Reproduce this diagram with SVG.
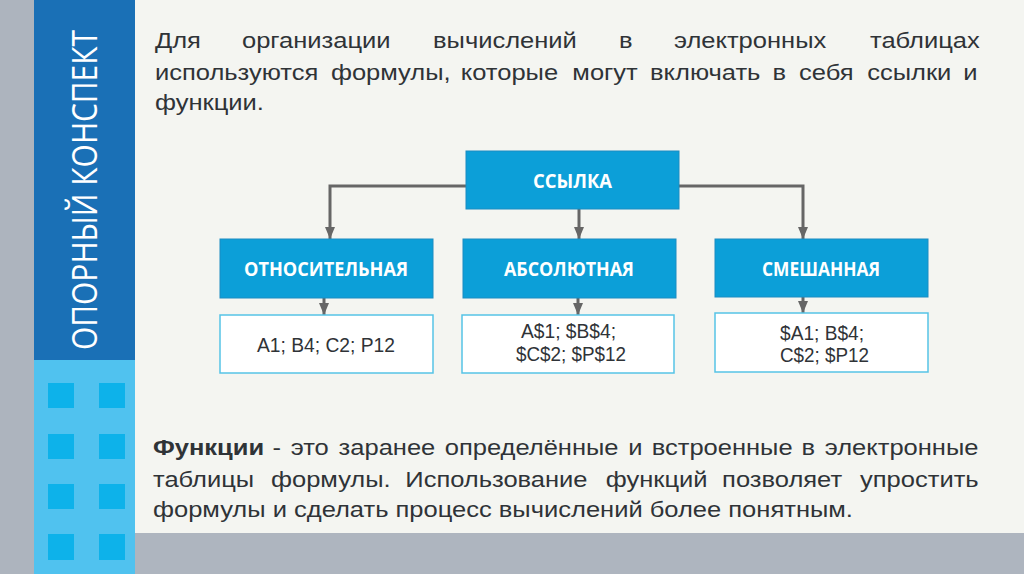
<svg xmlns="http://www.w3.org/2000/svg" width="1024" height="574" viewBox="0 0 1024 574">
<style>
.body{font-family:"Liberation Sans",Arial,sans-serif;font-size:22px;fill:#2f3337}
.lbl{font-family:"Open Sans","DejaVu Sans",sans-serif;font-weight:700;font-size:19px;fill:#ffffff}
.val{font-family:"Liberation Sans",Arial,sans-serif;font-size:20px;fill:#2f3337}
.head{fill:#0c9fd8;stroke:#1b8cc2;stroke-width:1}
.vbox{fill:#ffffff;stroke:#56c3e6;stroke-width:1.5}
.conn{fill:none;stroke:#666666;stroke-width:3}
.sq{fill:#0db2ea}
</style>
<defs>
<marker id="arr" markerUnits="userSpaceOnUse" markerWidth="12" markerHeight="10" refX="12" refY="5" orient="auto">
<path d="M0,0 L12,5 L0,10 Z" fill="#666666"/>
</marker>
</defs>
<g id="background">
<rect x="0" y="0" width="1024" height="574" fill="#f4f5f1"/>
<rect x="0" y="0" width="34" height="574" fill="#adb4be"/>
<rect x="135" y="533" width="889" height="41" fill="#aeb5bf"/>
<rect x="34" y="0" width="101" height="360" fill="#1a70b6"/>
<rect x="34" y="360" width="101" height="214" fill="#50c2ef"/>
<rect class="sq" x="48" y="383" width="26" height="25"/>
<rect class="sq" x="99" y="383" width="26" height="25"/>
<rect class="sq" x="48" y="434" width="26" height="25"/>
<rect class="sq" x="99" y="434" width="26" height="25"/>
<rect class="sq" x="48" y="484" width="26" height="25"/>
<rect class="sq" x="99" y="484" width="26" height="25"/>
<rect class="sq" x="48" y="534" width="26" height="26"/>
<rect class="sq" x="99" y="534" width="26" height="26"/>
<text transform="translate(97,190) scale(1.18,1) rotate(-90)" text-anchor="middle" textLength="320" lengthAdjust="spacingAndGlyphs" font-family="'Open Sans','DejaVu Sans',sans-serif" font-size="30" fill="#ffffff">ОПОРНЫЙ КОНСПЕКТ</text>
</g>
<g id="intro">
<text class="body" transform="matrix(1.16 0 0 1 0 48)"><tspan x="133.6">Для</tspan><tspan x="208.6">организации</tspan><tspan x="373.3">вычислений</tspan><tspan x="533.6">в</tspan><tspan x="581">электронных</tspan><tspan x="750">таблицах</tspan></text>
<text class="body" transform="matrix(1.16 0 0 1 0 80)"><tspan x="133.6">используются</tspan><tspan x="285.3">формулы,</tspan><tspan x="397.2">которые</tspan><tspan x="493.4">могут</tspan><tspan x="560.4">включать</tspan><tspan x="665.9">в</tspan><tspan x="688.8">себя</tspan><tspan x="747.6">ссылки</tspan><tspan x="830.3">и</tspan></text>
<text class="body" transform="matrix(1.16 0 0 1 0 110)"><tspan x="133.6">функции.</tspan></text>
</g>
<g id="connectors">
<path class="conn" d="M466,186 H330 V239" marker-end="url(#arr)"/>
<path class="conn" d="M679,186 H803 V239" marker-end="url(#arr)"/>
<path class="conn" d="M579,209 V239" marker-end="url(#arr)"/>
<path class="conn" d="M324,298 V315" marker-end="url(#arr)"/>
<path class="conn" d="M578,298 V315" marker-end="url(#arr)"/>
<path class="conn" d="M803,297 V313" marker-end="url(#arr)"/>
</g>
<g id="node-ssylka">
<rect class="head" x="466" y="151" width="213" height="58"/>
<text class="lbl" x="533" y="188" textLength="79" lengthAdjust="spacingAndGlyphs">ССЫЛКА</text>
</g>
<g id="node-otnositelnaya">
<rect class="head" x="220" y="239" width="213" height="59"/>
<text class="lbl" x="244" y="276" textLength="164" lengthAdjust="spacingAndGlyphs">ОТНОСИТЕЛЬНАЯ</text>
</g>
<g id="node-absolyutnaya">
<rect class="head" x="463" y="239" width="213" height="59"/>
<text class="lbl" x="504" y="276" textLength="130" lengthAdjust="spacingAndGlyphs">АБСОЛЮТНАЯ</text>
</g>
<g id="node-smeshannaya">
<rect class="head" x="715" y="239" width="213" height="58"/>
<text class="lbl" x="762" y="276" textLength="118" lengthAdjust="spacingAndGlyphs">СМЕШАННАЯ</text>
</g>
<g id="val-otnositelnaya">
<rect class="vbox" x="220" y="315" width="213" height="58"/>
<text class="val" x="257" y="352" textLength="138" lengthAdjust="spacingAndGlyphs">A1; B4; C2; P12</text>
</g>
<g id="val-absolyutnaya">
<rect class="vbox" x="462" y="315" width="212" height="58"/>
<text class="val" x="521" y="338" textLength="95" lengthAdjust="spacingAndGlyphs">A$1; $B$4;</text>
<text class="val" x="516" y="361" textLength="110" lengthAdjust="spacingAndGlyphs">$C$2; $P$12</text>
</g>
<g id="val-smeshannaya">
<rect class="vbox" x="715" y="313" width="213" height="59"/>
<text class="val" x="780" y="340" textLength="84" lengthAdjust="spacingAndGlyphs">$A1; B$4;</text>
<text class="val" x="780" y="362" textLength="89" lengthAdjust="spacingAndGlyphs">C$2; $P12</text>
</g>
<g id="functions-text">
<text class="body" transform="matrix(1.16 0 0 1 0 455)"><tspan x="131.9" font-weight="700">Функции</tspan><tspan x="235">-</tspan><tspan x="250.6">это</tspan><tspan x="291.9">заранее</tspan><tspan x="383.4">определённые</tspan><tspan x="541.6">и</tspan><tspan x="561.8">встроенные</tspan><tspan x="691">в</tspan><tspan x="711">электронные</tspan></text>
<text class="body" transform="matrix(1.16 0 0 1 0 487)"><tspan x="131.9">таблицы</tspan><tspan x="233.6">формулы.</tspan><tspan x="349.4">Использование</tspan><tspan x="522.2">функций</tspan><tspan x="622.5">позволяет</tspan><tspan x="741.4">упростить</tspan></text>
<text class="body" transform="matrix(1.16 0 0 1 0 517)"><tspan x="131.9">формулы и сделать процесс вычислений более понятным.</tspan></text>
</g>
</svg>
